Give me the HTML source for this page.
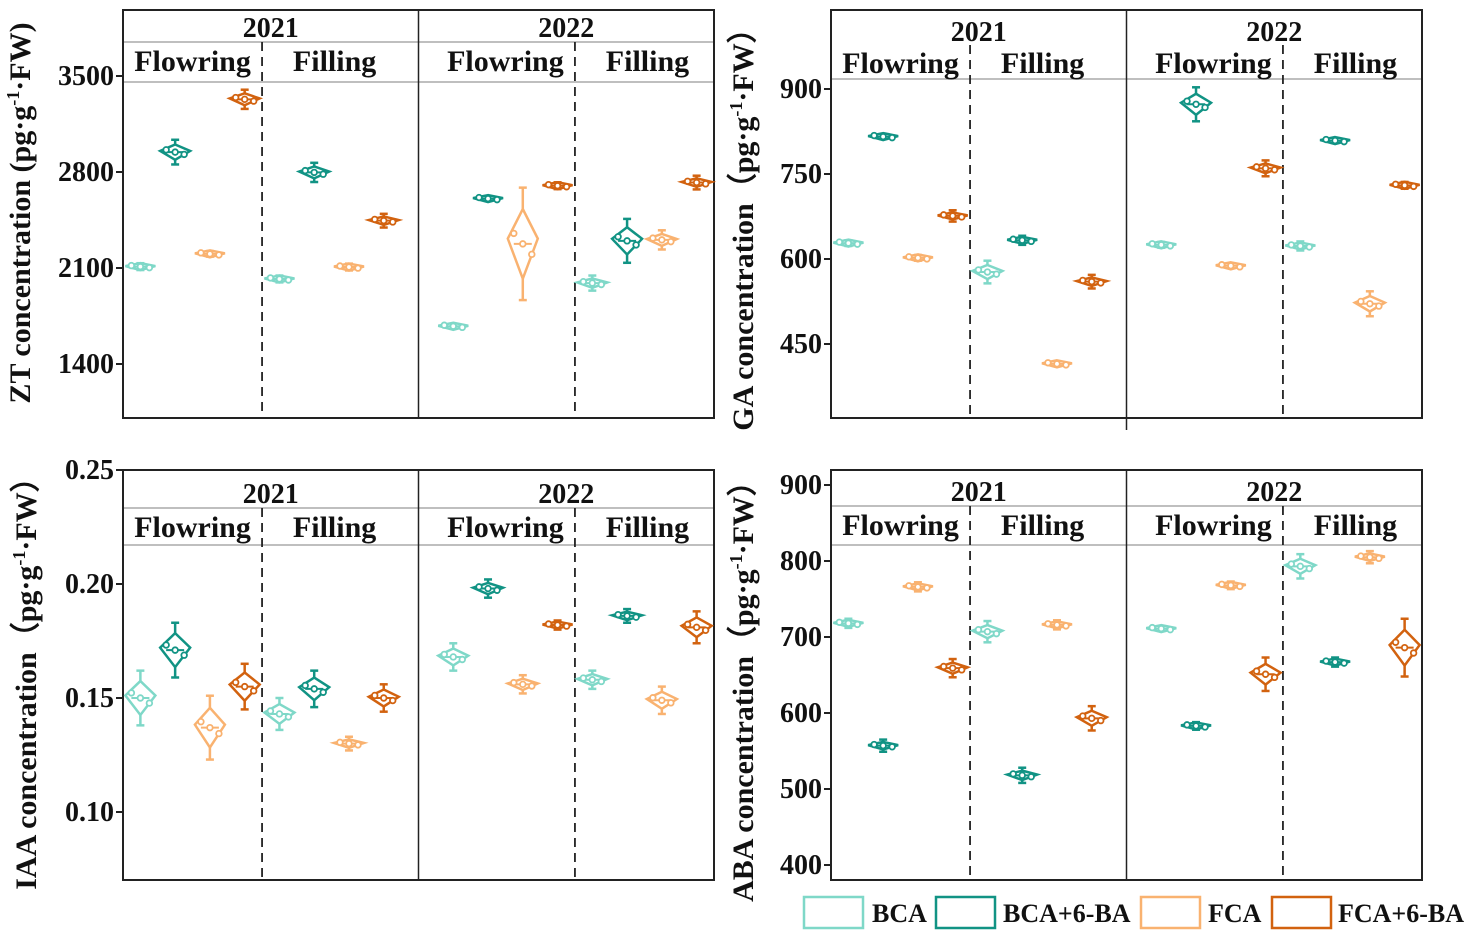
<!DOCTYPE html>
<html><head><meta charset="utf-8"><style>
html,body{margin:0;padding:0;background:#fff}
svg{display:block;font-family:"Liberation Serif",serif;font-weight:bold}
</style></head><body>
<svg id="chart" width="1476" height="936" viewBox="0 0 1476 936" xmlns="http://www.w3.org/2000/svg"></svg>
<script>
const treatments=["BCA","BCA+6-BA","FCA","FCA+6-BA"];
const colors=["#7fd8c8","#119384","#f9b270","#d2620f"];
const years=["2021","2022"];
const stages=["Flowring","Filling"];
// order: 2021 Flo(4), 2021 Fil(4), 2022 Flo(4), 2022 Fil(4)
const ztValues=[2110,2945,2203,3330, 2020,2797,2107,2445, 1675,2606,2276,2700, 1990,2298,2305,2723];
const ztErr=[25,90,20,70, 25,70,25,50, 15,15,410,25, 55,160,70,50];
const gaValues=[628,816,602,676, 577,633,415,560, 625,873,588,760, 623,809,521,730];
const gaErr=[5,4,5,10, 20,8,4,12, 5,30,4,14, 8,4,22,6];
const iaaValues=[0.150,0.171,0.137,0.155, 0.143,0.154,0.130,0.150, 0.168,0.198,0.156,0.182, 0.158,0.186,0.149,0.181];
const iaaErr=[0.012,0.012,0.014,0.010, 0.007,0.008,0.003,0.006, 0.006,0.004,0.004,0.002, 0.004,0.003,0.006,0.007];
const abaValues=[718,557,766,659, 707,518,716,593, 711,583,768,651, 793,667,805,686];
const abaErr=[6,8,6,12, 14,10,6,16, 3,5,5,22, 16,6,8,38];
const ztTicks=[1400,2100,2800,3500];
const gaTicks=[450,600,750,900];
const iaaTicks=[0.10,0.15,0.20,0.25];
const abaTicks=[400,500,600,700,800,900];

const NS="http://www.w3.org/2000/svg";
const svg=document.getElementById('chart');
function el(tag,attrs,parent){const e=document.createElementNS(NS,tag);for(const k in attrs)e.setAttribute(k,attrs[k]);(parent||svg).appendChild(e);return e;}

const panels=[
 {name:'zt',x0:123,x1:714,y0:10,y1:418,yl:42,sl:82,vals:ztValues,err:ztErr,ticks:ztTicks,fmt:v=>v.toString(),r:[2100,268,2800,172],title:'ZT concentration (pg·g',tx:30,ty:213,yt:27,st:62},
 {name:'ga',x0:831,x1:1422,y0:10,y1:418,yl:null,sl:79,vals:gaValues,err:gaErr,ticks:gaTicks,fmt:v=>v.toString(),r:[600,259,900,89],title:'GA concentration（pg·g',tx:753,ty:222,yt:31,st:64},
 {name:'iaa',x0:123,x1:714,y0:470,y1:880,yl:508,sl:545,vals:iaaValues,err:iaaErr,ticks:iaaTicks,fmt:v=>v.toFixed(2),r:[0.15,698,0.20,584],title:'IAA concentration（pg·g',tx:36,ty:676,yt:493,st:528},
 {name:'aba',x0:831,x1:1422,y0:470,y1:880,yl:506,sl:545,vals:abaValues,err:abaErr,ticks:abaTicks,fmt:v=>v.toString(),r:[700,637,800,561],title:'ABA concentration（pg·g',tx:753,ty:684,yt:491,st:526}
];

panels.forEach(p=>{
 const g=el('g',{});
 
 
 const k=(p.r[3]-p.r[1])/(p.r[2]-p.r[0]);
 const y=v=>p.r[1]+(v-p.r[0])*k;
 const step=(p.x1-p.x0)/17;
 const xs=i=>p.x0+(i+0.5)*step;
 if(p.yl){const l=el('line',{x1:p.x0,x2:p.x1,y1:p.yl,y2:p.yl,stroke:'#999','stroke-width':1.2},g);}
 const sl=el('line',{x1:p.x0,x2:p.x1,y1:p.sl,y2:p.sl,stroke:'#999','stroke-width':1.2},g);
 
 const xm=p.x0+8.5*step;
 const yd=el('line',{x1:xm,x2:xm,y1:p.y0,y2:p.y1+(p.name==='ga'?12:0),stroke:'#222','stroke-width':1.5},g);
 
 [4,13].forEach(i=>{const xd=p.x0+i*step;const d=el('line',{x1:xd,x2:xd,y1:p.yl||p.y0+35,y2:p.y1,stroke:'#222','stroke-width':1.8,'stroke-dasharray':'9,6'},g);
  });
 const fr=el('rect',{x:p.x0,y:p.y0,width:p.x1-p.x0,height:p.y1-p.y0,fill:'none',stroke:'#222','stroke-width':2},g);
 
 years.forEach((yr,yi)=>{
  const t=el('text',{x:p.x0+(yi*8.5+4.25)*step,y:p.yt+10,'font-size':28,'text-anchor':'middle',fill:'#111'},g);t.textContent=yr;
  
  stages.forEach((s,si)=>{
   const c=yi*9+si*4+1.5;
   const st=el('text',{x:p.x0+(c+0.5)*step+(si?3:0),y:p.st+9,'font-size':30,'text-anchor':'middle',fill:'#111'},g);st.textContent=s;
   
  });
 });
 p.ticks.forEach(t=>{
  const ty=y(t);
  const tm=el('line',{x1:p.x0-7,x2:p.x0,y1:ty,y2:ty,stroke:'#222','stroke-width':2},g);
  
  const tl=el('text',{x:p.x0-9,y:ty+9,'font-size':28,'text-anchor':'end',fill:'#111'},g);tl.textContent=p.fmt(t);
  
 });
 const tt=el('text',{x:0,y:0,'font-size':30,'text-anchor':'middle',fill:'#111',transform:`translate(${p.tx},${p.ty}) rotate(-90)`},g);
 
 tt.appendChild(document.createTextNode(p.title));
 const sup=el('tspan',{dy:-11,'font-size':18},tt);sup.textContent='-1';
 const rest=el('tspan',{dy:11},tt);rest.textContent=p.name==='zt'?'·FW)':'·FW）';
 p.vals.forEach((v,i)=>{
  const slot=i<8?i:i+1;
  const cx=xs(slot);const c=colors[i%4];
  const cy=y(v);
  const e=Math.abs(p.err[i]*k);
  const vh=Math.max(3.5,e*0.62);
  const w=15;
  const vg=el('g',{},g);
  
  
  el('line',{x1:cx,x2:cx,y1:cy-e,y2:cy+e,stroke:c,'stroke-width':2.5},vg);
  el('line',{x1:cx-4,x2:cx+4,y1:cy-e,y2:cy-e,stroke:c,'stroke-width':2.5},vg);
  el('line',{x1:cx-4,x2:cx+4,y1:cy+e,y2:cy+e,stroke:c,'stroke-width':2.5},vg);
  el('polygon',{points:`${cx},${cy-vh} ${cx+w},${cy-vh*0.15} ${cx},${cy+vh} ${cx-w},${cy-vh*0.15}`,fill:'#fff',stroke:c,'stroke-width':2.5},vg);
  el('line',{x1:cx-w*0.6,x2:cx+w*0.6,y1:cy,y2:cy,stroke:c,'stroke-width':2},vg);
  [-9,0,9].forEach((dx,j)=>el('circle',{cx:cx+dx,cy:cy+(j-1)*0.3*vh,r:2.8,fill:'#fff',stroke:c,'stroke-width':1.8},vg));
 });
});

const leg=[[804,872],[936,1003],[1141,1208],[1272,1338]];
treatments.forEach((t,i)=>{
 const lg=el('g',{});
 
 
 el('rect',{x:leg[i][0],y:897,width:59,height:31,fill:'#fff',stroke:colors[i],'stroke-width':2.5},lg);
 const tx=el('text',{x:leg[i][1],y:922,'font-size':26,fill:'#111'},lg);tx.textContent=t;
});
</script>
</body></html>
